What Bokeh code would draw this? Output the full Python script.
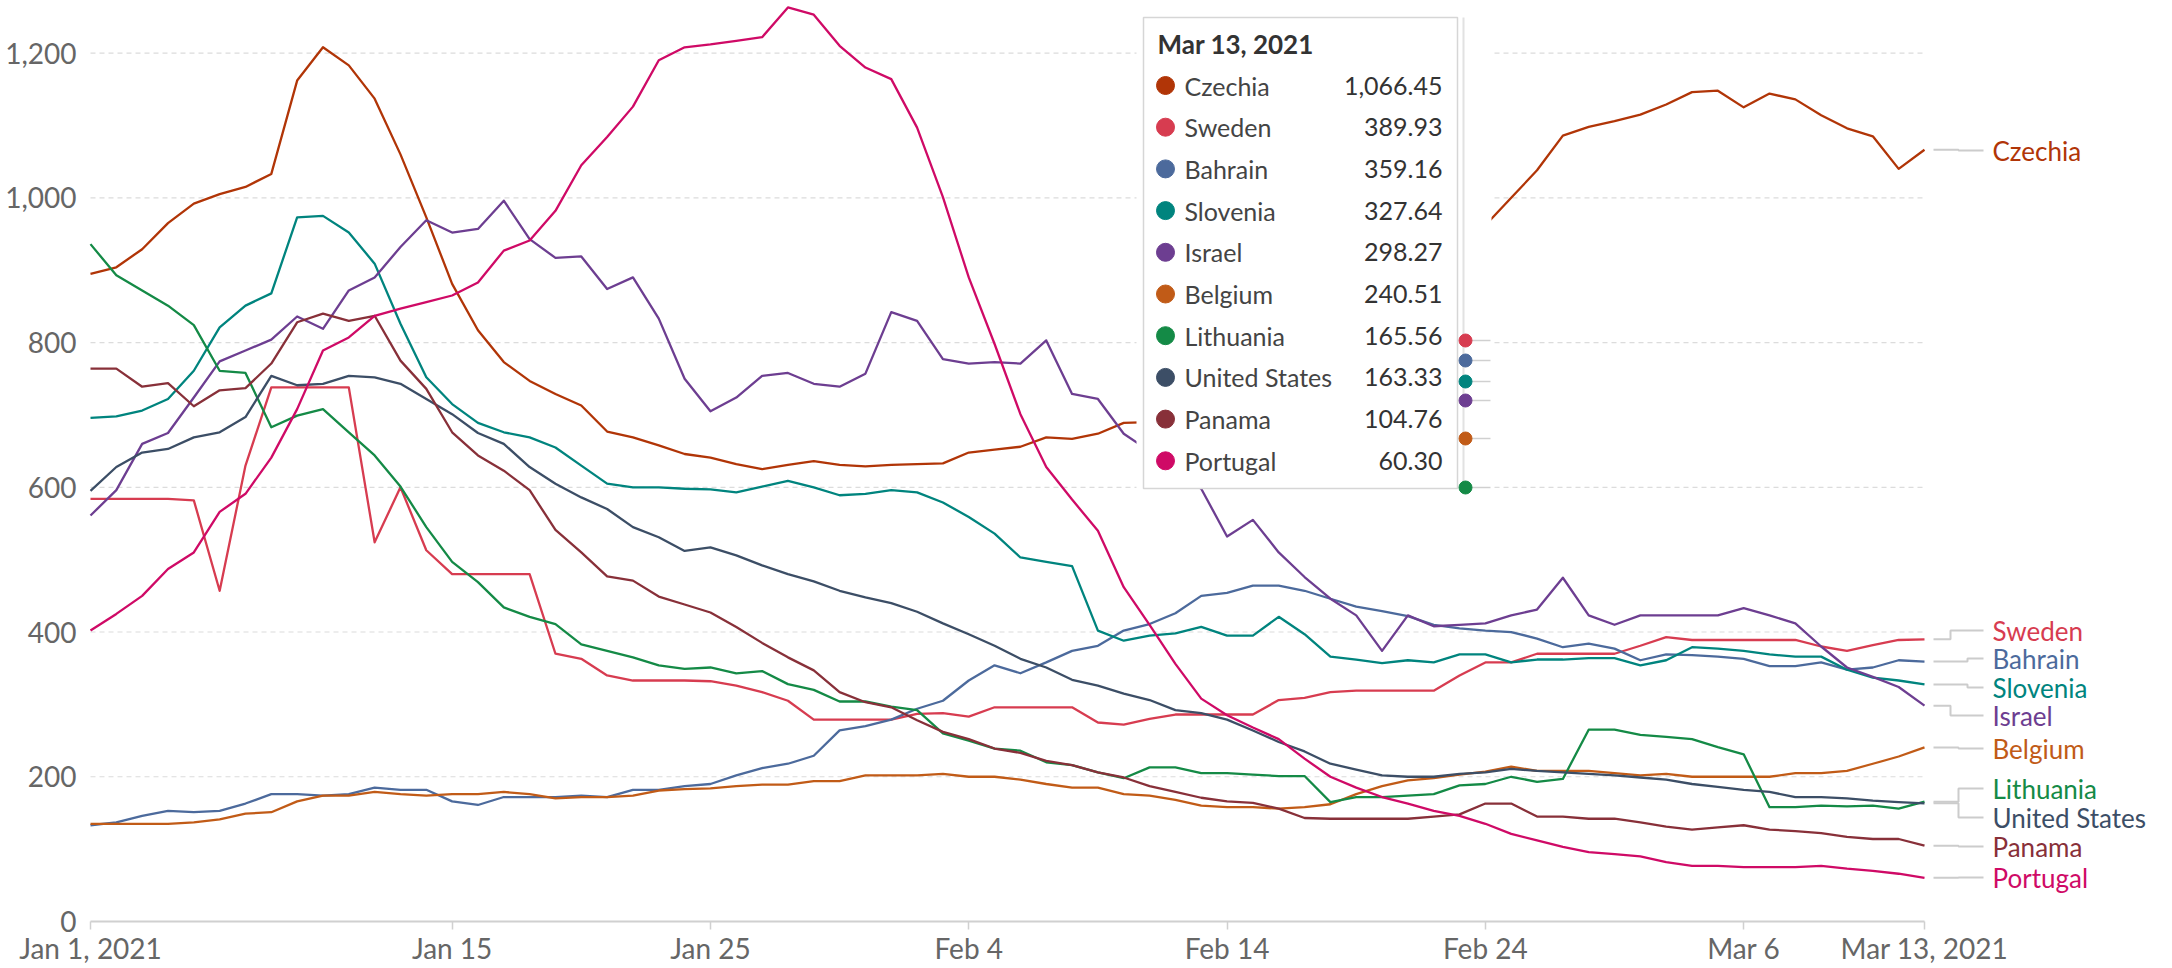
import pandas as pd
from bokeh.plotting import figure
from bokeh.models import Range1d, FixedTicker, NumeralTickFormatter, ColumnDataSource
from bokeh.core.properties import value
from bokeh.embed import file_html
from bokeh.resources import INLINE

# ---------------- data ----------------
dates = pd.date_range("2021-01-01", "2021-03-13", freq="D")
countries = ["Czechia", "Sweden", "Bahrain", "Slovenia", "Israel", "Belgium",
             "Lithuania", "United States", "Panama", "Portugal"]

czechia = [895, 904, 929, 965, 992, 1005, 1015, 1033, 1162, 1208,
           1183, 1137, 1060, 973, 881, 817, 773, 747, 729, 713,
           677, 669, 658, 646, 641, 632, 625, 631, 636, 631,
           629, 631, 632, 633, 648, 652, 656, 669, 667, 674,
           689, 690, 700, 712, 725, 738, 752, 770, 795, 820,
           848, 875, 905, 935, 962, 1000, 1038, 1086, 1098, 1106,
           1115, 1129, 1146, 1148, 1125, 1144, 1136, 1114, 1096, 1085,
           1040, 1066.45]
sweden = [584, 584, 584, 584, 582, 457, 630, 738, 738, 738,
          738, 524, 600, 513, 480, 480, 480, 480, 370, 363,
          340, 333, 333, 333, 332, 326, 317, 305, 279, 279,
          279, 279, 287, 288, 283, 296, 296, 296, 296, 275,
          272, 280, 286, 286, 286, 286, 306, 309, 317, 319,
          319, 319, 319, 340, 358, 358, 370, 370, 370, 370,
          381, 393, 389, 389, 389, 389, 389, 380, 374, 382,
          389, 389.93]
bahrain = [133, 137, 146, 153, 151, 153, 163, 176, 176, 174,
           176, 185, 182, 182, 166, 161, 172, 172, 172, 174,
           172, 182, 182, 187, 190, 202, 212, 218, 229, 264,
           270, 279, 294, 305, 333, 354, 343, 358, 374, 381,
           402, 411, 426, 450, 454, 464, 464, 457, 446, 435,
           429, 422, 410, 405, 402, 400, 391, 379, 384, 377,
           361, 369, 368, 366, 363, 353, 353, 358, 348, 351,
           361, 359.16]
slovenia = [696, 698, 706, 722, 761, 821, 851, 868, 973, 975,
            952, 909, 826, 752, 715, 689, 676, 669, 655, 630,
            605, 600, 600, 598, 597, 593, 601, 609, 600, 589,
            591, 596, 593, 579, 559, 536, 503, 497, 491, 402,
            388, 395, 398, 407, 395, 395, 421, 397, 366, 362,
            357, 361, 358, 369, 369, 358, 362, 362, 364, 364,
            354, 361, 379, 377, 374, 369, 366, 366, 348, 337,
            333, 327.64]
israel = [561, 596, 660, 675, 724, 774, 789, 804, 836, 819,
          872, 890, 932, 969, 952, 957, 996, 943, 917, 919,
          874, 890, 833, 750, 705, 724, 754, 758, 743, 739,
          757, 842, 830, 777, 771, 773, 771, 803, 729, 722,
          674, 650, 625, 598, 532, 555, 510, 476, 446, 423,
          374, 423, 408, 410, 412, 423, 431, 475, 423, 410,
          423, 423, 423, 423, 433, 423, 412, 380, 351, 338,
          324, 298.27]
belgium = [135, 135, 135, 135, 137, 141, 149, 151, 166, 174,
           174, 179, 176, 174, 176, 176, 179, 176, 170, 172,
           172, 174, 181, 183, 184, 187, 189, 189, 194, 194,
           202, 202, 202, 204, 200, 200, 196, 190, 185, 185,
           176, 174, 168, 160, 158, 158, 156, 158, 162, 176,
           187, 195, 198, 203, 207, 214, 208, 208, 208, 205,
           202, 204, 200, 200, 200, 200, 205, 205, 208, 218,
           228, 240.51]
lithuania = [936, 893, 872, 851, 824, 761, 758, 683, 699, 708,
             676, 644, 601, 545, 497, 469, 434, 421, 411, 383,
             374, 365, 354, 349, 351, 343, 346, 328, 320, 304,
             304, 297, 292, 260, 250, 239, 236, 220, 216, 206,
             198, 213, 213, 205, 205, 203, 201, 201, 165, 172,
             172, 174, 176, 188, 190, 200, 193, 197, 265, 265,
             258, 255, 252, 241, 231, 158, 158, 160, 159, 160,
             156, 165.56]
united_states = [595, 628, 648, 653, 669, 676, 697, 754, 741, 743,
                 754, 752, 743, 722, 701, 675, 660, 628, 605, 586,
                 570, 545, 531, 512, 517, 506, 492, 480, 470, 457,
                 448, 440, 428, 412, 397, 381, 363, 351, 334, 326,
                 315, 306, 292, 288, 279, 264, 248, 235, 218, 210,
                 202, 200, 200, 204, 206, 211, 208, 206, 204, 202,
                 199, 196, 190, 186, 182, 179, 172, 172, 170, 167,
                 165, 163.33]
panama = [764, 764, 739, 744, 712, 734, 737, 771, 828, 840,
          830, 837, 775, 736, 676, 644, 623, 596, 541, 510,
          477, 471, 449, 438, 427, 407, 385, 365, 347, 317,
          303, 296, 278, 262, 252, 239, 233, 222, 216, 206,
          199, 187, 179, 171, 166, 164, 156, 143, 142, 142,
          142, 142, 145, 148, 163, 163, 145, 145, 142, 142,
          137, 131, 127, 130, 133, 127, 125, 122, 117, 114,
          114, 104.76]
portugal = [402, 425, 450, 487, 510, 566, 591, 641, 708, 789,
            807, 837, 847, 856, 865, 883, 927, 941, 982, 1045,
            1084, 1126, 1190, 1208, 1212, 1217, 1222, 1263, 1253, 1210,
            1180, 1164, 1097, 1001, 890, 798, 701, 628, 583, 540,
            462, 410, 356, 308, 285, 268, 252, 225, 200, 185,
            172, 163, 153, 146, 135, 121, 112, 103, 96, 93,
            90, 82, 77, 77, 75, 75, 75, 77, 73, 70,
            66, 60.30]

series = [czechia, sweden, bahrain, slovenia, israel, belgium,
          lithuania, united_states, panama, portugal]

tick_dates = ["2021-01-01", "2021-01-15", "2021-01-25", "2021-02-04",
              "2021-02-14", "2021-02-24", "2021-03-06", "2021-03-13"]
tick_labels = ["Jan 1, 2021", "Jan 15", "Jan 25", "Feb 4", "Feb 14",
               "Feb 24", "Mar 6", "Mar 13, 2021"]
y_ticks = [0, 200, 400, 600, 800, 1000, 1200]
tooltip_title = "Mar 13, 2021"

# ---------------- styles / layout ----------------
colors = ["#B13507", "#D73C50", "#4C6A9C", "#00847E", "#6D3E91", "#C15B17",
          "#148A46", "#3C4E66", "#883039", "#CF0A66"]
W, H = 2164, 966
PXD = 25.831          # px per day
PXV = 0.72369         # px per case unit
X0_REF, Y0_REF = 90, 921   # reference pixel of (day 0, value 0)
OFF = 0                    # canvas offset on the page


def dx(ref_x):
    return (ref_x - X0_REF) / PXD


def vy(ref_y):
    return (Y0_REF - ref_y) / PXV


days = [(d - dates[0]).days for d in dates]
tick_days = [(pd.Timestamp(t) - dates[0]).days for t in tick_dates]
last_day = days[-1]

x_start = dx(OFF)
x_end = dx(OFF + W)
y_end = vy(OFF)
y_start = vy(OFF + H)

p = figure(width=W, height=H, x_range=Range1d(x_start, x_end),
           y_range=Range1d(y_start, y_end), output_backend="svg",
           toolbar_location=None, min_border_left=0, min_border_right=0,
           min_border_top=0, min_border_bottom=0, outline_line_color=None,
           background_fill_color="white", border_fill_color="white")
p.xgrid.visible = False
p.ygrid.visible = False

xa = p.xaxis[0]
xa.fixed_location = 0
xa.bounds = (0, last_day)
xa.ticker = FixedTicker(ticks=tick_days)
xa.major_label_overrides = {d: lab for d, lab in zip(tick_days, tick_labels)}
xa.axis_line_color = "#d0d0d0"
xa.axis_line_width = 2
xa.major_tick_line_color = "#d0d0d0"
xa.major_tick_line_width = 1.5
xa.major_tick_out = 8
xa.major_tick_in = 0
xa.minor_tick_line_color = None
xa.major_label_text_font = "Lato"
xa.major_label_text_font_size = "28px"
xa.major_label_text_color = "#666666"
xa.major_label_standoff = 1

ya = p.yaxis[0]
ya.fixed_location = 0
ya.ticker = FixedTicker(ticks=y_ticks)
ya.formatter = NumeralTickFormatter(format="0,0")
ya.axis_line_color = None
ya.major_tick_line_color = None
ya.minor_tick_line_color = None
ya.major_label_text_font = "Lato"
ya.major_label_text_font_size = "28px"
ya.major_label_text_color = "#666666"
ya.major_label_standoff = 8

# gridlines (stop at the last date)
grid_vals = [v for v in y_ticks if v > 0]
p.segment(x0=[0] * len(grid_vals), x1=[last_day] * len(grid_vals),
          y0=grid_vals, y1=grid_vals, line_color="#dcdcdc", line_width=1.2,
          line_dash="5 4")

# data lines
for name, vals, col in zip(countries, series, colors):
    p.line(days, vals, line_color=col, line_width=2.3, line_join="round")

# ---------------- tooltip overlay ----------------
p.quad(left=[dx(1136)], right=[dx(1491)], bottom=[vy(488)], top=[vy(0)],
       fill_color="white", line_color=None)
p.quad(left=[dx(1143)], right=[dx(1457)], bottom=[vy(488)], top=[vy(17)],
       fill_color="white", line_color="#d6d6d6", line_width=1.5)
p.segment(x0=[dx(1463)], x1=[dx(1463)], y0=[vy(17)], y1=[vy(488)],
          line_color="#e2e2e2", line_width=2)

ghost_idx = [1, 2, 3, 4, 5, 6]
ghost_px = [340, 360, 381, 400, 438, 487]
p.segment(x0=[dx(1468)] * 6, x1=[dx(1490)] * 6,
          y0=[vy(g) for g in ghost_px], y1=[vy(g) for g in ghost_px],
          line_color="#d0d0d0", line_width=1.5)
p.scatter(x=[dx(1465)] * 6, y=[vy(g) for g in ghost_px], size=13,
          fill_color=[colors[i] for i in ghost_idx],
          line_color=[colors[i] for i in ghost_idx])

p.text(x=[dx(1157)], y=[vy(43)], text=[tooltip_title],
       text_font=value("Lato"), text_font_size=value("26px"),
       text_font_style="bold", text_color="#333333", text_baseline="middle")

row_px = [85 + 41.7 * i for i in range(len(countries))]
tt = ColumnDataSource(dict(
    y=[vy(r) for r in row_px],
    name=countries,
    val=[f"{s[-1]:,.2f}" for s in series],
    color=colors,
))
p.scatter(x=dx(1165), y="y", size=18, fill_color="color", line_color="color",
          source=tt)
p.text(x=dx(1184), y="y", text="name", source=tt, text_font=value("Lato"),
       text_font_size=value("25px"), text_color="#444444",
       text_baseline="middle")
p.text(x=dx(1442), y="y", text="val", source=tt, text_font=value("Lato"),
       text_font_size=value("25px"), text_color="#333333",
       text_baseline="middle", text_align="right")

# ---------------- end labels ----------------
label_px = [150, 630, 658, 687, 715, 748, 788, 817, 846, 877]
elbow_px = [1958, 1950, 1967, 1967, 1950, 1958, 1958, 1958, 1958, 1958]
xs, ys = [], []
for s, lp, ep in zip(series, label_px, elbow_px):
    ly = vy(lp)
    xs.append([dx(1933), dx(ep), dx(ep), dx(1983)])
    ys.append([s[-1], s[-1], ly, ly])
p.multi_line(xs=xs, ys=ys, line_color="#cccccc", line_width=2)

lab = ColumnDataSource(dict(y=[vy(lp) for lp in label_px], name=countries,
                            color=colors))
p.text(x=dx(1992), y="y", text="name", source=lab, text_color="color",
       text_font=value("Lato"), text_font_size=value("26px"),
       text_baseline="middle")

open("out.html", "w").write(file_html(p, INLINE))
